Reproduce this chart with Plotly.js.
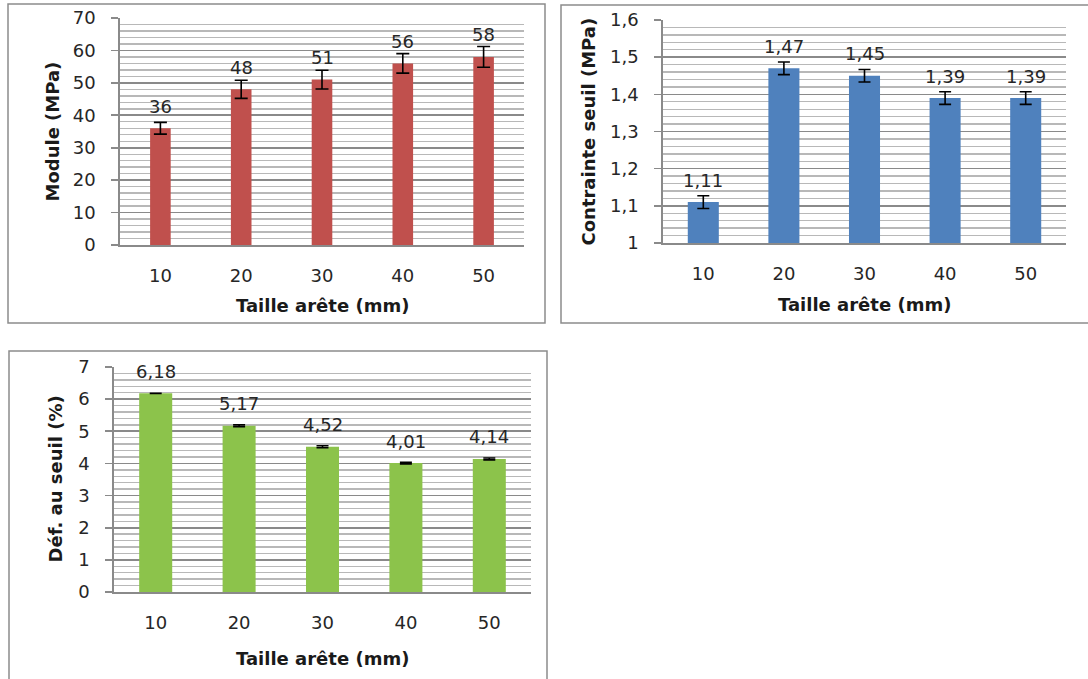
<!DOCTYPE html>
<html>
<head>
<meta charset="utf-8">
<script src="https://cdn.plot.ly/plotly-3.0.1.min.js"></script>
<style>html,body{margin:0;padding:0;background:#fff;}#chart{width:1088px;height:679px;}</style>
</head>
<body>
<div id="chart"></div>
<script>
// ---- data ----
const categories = ['10', '20', '30', '40', '50'];
const moduleValues = [36, 48, 51, 56, 58];
const moduleErrors = [1.8, 2.8, 2.9, 3.0, 3.2];
const contrainteValues = [1.11, 1.47, 1.45, 1.39, 1.39];
const contrainteErrors = [0.017, 0.017, 0.017, 0.017, 0.017];
const deformationValues = [6.18, 5.17, 4.52, 4.01, 4.14];
const deformationErrors = [0.005, 0.03, 0.03, 0.025, 0.03];
const xTitle = 'Taille arête (mm)';
const yTitles = ['Module (MPa)', 'Contrainte seuil (MPa)', 'Déf. au seuil (%)'];

// ---- helpers ----
const W = 1088, H = 679;
const px = v => v / W;
const py = v => 1 - v / H;
const FONT = 'DejaVu Sans';
const TXT = '#262626';
const fmt = v => String(v).replace('.', ',');

function bar(values, errors, color, width, xa, ya, capw) {
  return {
    type: 'bar', x: categories, y: values, xaxis: xa, yaxis: ya,
    width: width,
    marker: {color: color, line: {width: 0}},
    error_y: {type: 'data', array: errors, visible: true, color: '#000000', thickness: 1.6, width: capw},
    hoverinfo: 'x+y', showlegend: false
  };
}

function yax(domain, range, dtick, minorDtick, anchor) {
  return {
    domain: domain, range: range, dtick: dtick, tick0: range[0], anchor: anchor,
    showgrid: true, gridcolor: '#8A8A8A', gridwidth: 1.6,
    minor: {dtick: minorDtick, showgrid: true, gridcolor: '#B8B8B8', gridwidth: 1.4, ticks: ''},
    zeroline: false, showline: true, linecolor: '#8A8A8A', linewidth: 1.8,
    ticks: 'outside', ticklen: 7, tickwidth: 1.6, tickcolor: '#8A8A8A',
    ticklabelstandoff: 12,
    tickfont: {family: FONT, size: 18, color: TXT}, fixedrange: true
  };
}

function xax(domain, anchor) {
  return {
    domain: domain, type: 'category', range: [-0.5, 4.5], anchor: anchor,
    showgrid: false, zeroline: false, showline: true, linecolor: '#8A8A8A', linewidth: 1.8,
    ticks: '', ticklabelstandoff: 14,
    tickfont: {family: FONT, size: 18, color: TXT}, fixedrange: true
  };
}

const data = [
  bar(moduleValues, moduleErrors, '#C0504D', 0.255, 'x', 'y', 6.5),
  bar(contrainteValues, contrainteErrors, '#4F81BD', 0.385, 'x2', 'y2', 6),
  bar(deformationValues, deformationErrors, '#8CC34B', 0.396, 'x3', 'y3', 6)
];

// plot areas (pixels)
const areas = [
  {x0: 120, x1: 524, y0: 18, y1: 245},
  {x0: 663, x1: 1066, y0: 20, y1: 243},
  {x0: 114, x1: 531, y0: 367, y1: 592}
];

const layout = {
  width: W, height: H, margin: {l: 0, r: 0, t: 0, b: 0},
  paper_bgcolor: '#ffffff', plot_bgcolor: '#ffffff',
  separators: ', ', showlegend: false,
  xaxis: xax([px(areas[0].x0), px(areas[0].x1)], 'y'),
  yaxis: yax([py(areas[0].y1), py(areas[0].y0)], [0, 70], 10, 2, 'x'),
  xaxis2: xax([px(areas[1].x0), px(areas[1].x1)], 'y2'),
  yaxis2: yax([py(areas[1].y1), py(areas[1].y0)], [1, 1.6], 0.1, 0.02, 'x2'),
  xaxis3: xax([px(areas[2].x0), px(areas[2].x1)], 'y3'),
  yaxis3: yax([py(areas[2].y1), py(areas[2].y0)], [0, 7], 1, 0.2, 'x3'),
  shapes: [
    {type: 'rect', xref: 'paper', yref: 'paper', x0: px(8), x1: px(545), y0: py(323), y1: py(4), line: {color: '#8C8C8C', width: 1.5}, layer: 'below'},
    {type: 'rect', xref: 'paper', yref: 'paper', x0: px(561), x1: px(1092), y0: py(323), y1: py(5), line: {color: '#8C8C8C', width: 1.5}, layer: 'below'},
    {type: 'rect', xref: 'paper', yref: 'paper', x0: px(9), x1: px(547), y0: py(690), y1: py(351), line: {color: '#8C8C8C', width: 1.5}, layer: 'below'}
  ],
  annotations: []
};

// axis titles
const xTitleY = [305, 304, 658];
const yTitleX = [52, 588, 55];
areas.forEach((a, i) => {
  layout.annotations.push({
    xref: 'paper', yref: 'paper', x: px((a.x0 + a.x1) / 2), y: py(xTitleY[i]),
    xanchor: 'center', yanchor: 'middle', showarrow: false, text: xTitle,
    font: {family: FONT, size: 18, color: '#1a1a1a', weight: 'bold'}
  });
  layout.annotations.push({
    xref: 'paper', yref: 'paper', x: px(yTitleX[i]), y: py((a.y0 + a.y1) / 2),
    xanchor: 'center', yanchor: 'middle', showarrow: false, text: yTitles[i], textangle: -90,
    font: {family: FONT, size: 18, color: '#1a1a1a', weight: 'bold'}
  });
});

// data labels (x given as category index)
[[moduleValues, 'x', 'y'], [contrainteValues, 'x2', 'y2'], [deformationValues, 'x3', 'y3']].forEach(([vals, xa, ya]) => {
  vals.forEach((v, i) => {
    layout.annotations.push({
      xref: xa, yref: ya, x: i, y: v, yshift: 22,
      xanchor: 'center', yanchor: 'middle', showarrow: false, text: fmt(v),
      font: {family: FONT, size: 18, color: TXT}
    });
  });
});

Plotly.newPlot('chart', data, layout, {displayModeBar: false, staticPlot: true});
</script>
</body>
</html>
